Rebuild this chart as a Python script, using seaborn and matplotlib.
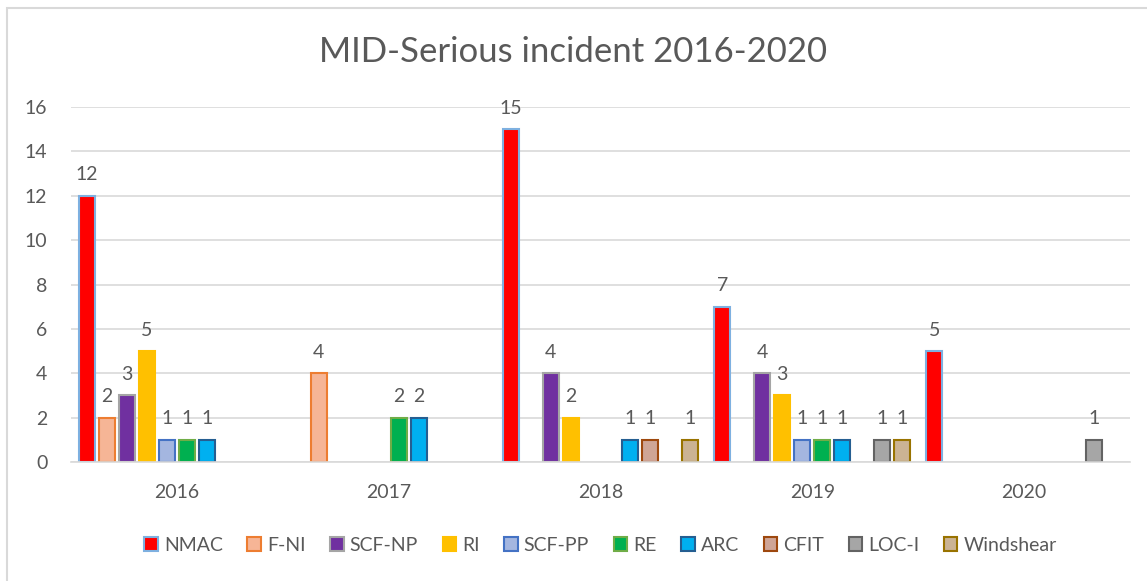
import pandas as pd
import numpy as np
import matplotlib
matplotlib.use("Agg")
import matplotlib.pyplot as plt
import seaborn as sns
from matplotlib.patches import Rectangle, Patch

years = ["2016", "2017", "2018", "2019", "2020"]
categories = ["NMAC", "F-NI", "SCF-NP", "RI", "SCF-PP", "RE", "ARC", "CFIT", "LOC-I", "Windshear"]

# counts per category, one entry per year (nan = no bar)
nmac = [12, np.nan, 15, 7, 5]
f_ni = [2, 4, np.nan, np.nan, np.nan]
scf_np = [3, np.nan, 4, 4, np.nan]
ri = [5, np.nan, 2, 3, np.nan]
scf_pp = [1, np.nan, np.nan, 1, np.nan]
re_ = [1, 2, np.nan, 1, np.nan]
arc = [1, 2, 1, 1, np.nan]
cfit = [np.nan, np.nan, 1, np.nan, np.nan]
loc_i = [np.nan, np.nan, np.nan, 1, 1]
windshear = [np.nan, np.nan, 1, 1, np.nan]

series = [nmac, f_ni, scf_np, ri, scf_pp, re_, arc, cfit, loc_i, windshear]

fill_colors = ["#FF0000", "#F6B596", "#7030A0", "#FFC000", "#A4B6E0",
               "#00B050", "#00B0F0", "#CFA596", "#A6A6A6", "#CBB394"]
edge_colors = ["#7EB0E0", "#ED7D31", "#A5A5A5", "#FFC000", "#4472C4",
               "#70AD47", "#255E91", "#9E480E", "#636363", "#997300"]

rows = []
for cat, vals in zip(categories, series):
    for yr, v in zip(years, vals):
        rows.append({"year": yr, "category": cat, "count": v})
df = pd.DataFrame(rows).dropna()

sns.set_style("white")
plt.rcParams["font.family"] = ["Lato", "DejaVu Sans"]
text_color = "#595959"

fig = plt.figure(figsize=(11.47, 5.81), dpi=100)
ax = fig.add_axes([71 / 1147, 1 - 462 / 581, (1130 - 71) / 1147, (462 - 107) / 581])

sns.barplot(data=df, x="year", y="count", hue="category", order=years,
            hue_order=categories, palette=fill_colors, saturation=1,
            width=0.944, gap=0.2, errorbar=None, ax=ax, legend=False)

for cont, ec in zip(ax.containers, edge_colors):
    for bar in cont:
        bar.set_edgecolor(ec)
        bar.set_linewidth(1.5)
    ax.bar_label(cont, fmt="%g", padding=9, fontsize=14, color=text_color)

ax.set_ylim(0, 16)
ax.set_yticks(range(0, 17, 2))
ax.set_xlim(-0.5, 4.5)
ax.yaxis.grid(True, color="#D9D9D9", linewidth=1.2)
ax.set_axisbelow(True)
for s in ["top", "right", "left"]:
    ax.spines[s].set_visible(False)
ax.spines["bottom"].set_color("#D9D9D9")
ax.spines["bottom"].set_linewidth(1.2)
ax.tick_params(axis="both", length=0, labelsize=14, labelcolor=text_color)
ax.tick_params(axis="x", pad=16)
ax.tick_params(axis="y", pad=17)
ax.set_xlabel("")
ax.set_ylabel("")

handles = [Patch(facecolor=fc, edgecolor=ec, linewidth=1.5)
           for fc, ec in zip(fill_colors, edge_colors)]
ax.legend(handles, categories, loc="center", bbox_to_anchor=(0.5, -0.235), ncol=10,
          frameon=False, fontsize=14, labelcolor=text_color, handlelength=0.7,
          handleheight=0.7, handletextpad=0.3, columnspacing=1.27)

fig.suptitle("MID-Serious incident 2016-2020", y=1 - 52 / 581, va="center",
             fontsize=25, color=text_color)

fig.patches.append(Rectangle((7 / 1147, -0.1), 1.2, 1 - 8 / 581 + 0.1,
                             transform=fig.transFigure, fill=False,
                             edgecolor="#D9D9D9", linewidth=1.5))

fig.savefig("out.png", dpi=100, facecolor="white")
